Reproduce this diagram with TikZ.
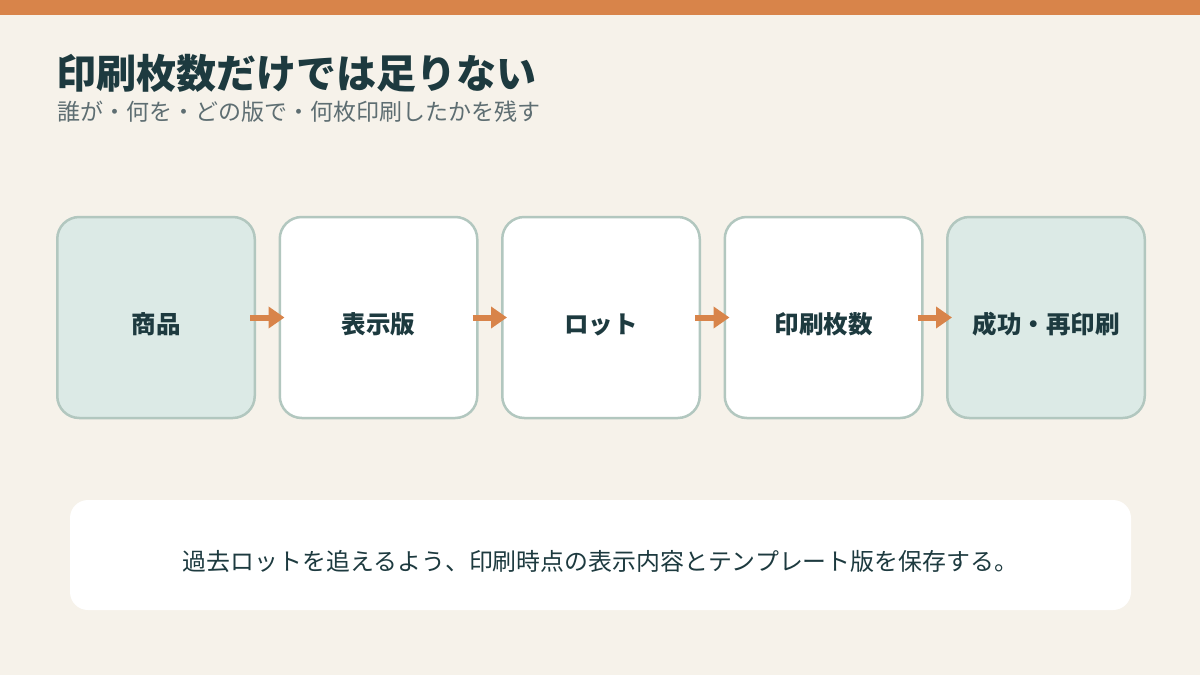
\documentclass[tikz,border=0pt]{standalone}
\usepackage{fontspec}
\setmainfont{Noto Sans CJK JP}
\usetikzlibrary{arrows.meta,positioning,calc}
\definecolor{cBg}{HTML}{F6F2EA}
\definecolor{cBar}{HTML}{D8844A}
\definecolor{cInk}{HTML}{1D3A3F}
\definecolor{cSub}{HTML}{5E6E72}
\definecolor{cEdge}{HTML}{B2C7BF}
\definecolor{cMint}{HTML}{DCEAE6}
\tikzset{
  stage/.style={rounded corners=22pt,draw=cEdge,line width=2.5pt,fill=white,
    minimum width=197.5pt,minimum height=201pt,inner sep=0pt,
    text height=32pt,text depth=0pt,
    font=\fontsize{24.5}{28}\selectfont\bfseries,text=cInk},
  endstage/.style={stage,fill=cMint},
  flowarrow/.style={-{Triangle[length=16pt,width=21pt]},line width=6pt,cBar},
  note/.style={rounded corners=18pt,fill=white,minimum width=1061pt,minimum height=110pt,
    inner sep=0pt,text height=31pt,text depth=0pt,
    font=\fontsize{23.9}{27}\selectfont,text=cInk},
}

\begin{document}
\begin{tikzpicture}[x=1pt,y=-1pt,node distance=22.5pt]
  \useasboundingbox (0,0) rectangle (1200,675);
  \fill[cBg] (0,0) rectangle (1200,675);
  \fill[cBar] (0,0) rectangle (1200,15);
  % heading
  \node[anchor=west,inner sep=0pt,font=\fontsize{40}{46}\selectfont\bfseries,text=cInk]
    (title) at (56,73) {印刷枚数だけでは足りない};
  \node[anchor=west,inner sep=0pt,font=\fontsize{23}{27}\selectfont,text=cSub]
    (sub) at (57,112) {誰が・何を・どの版で・何枚印刷したかを残す};
  % stages
  \node[endstage] (item) at (156,317.5) {商品};
  \node[stage,right=of item] (label) {表示版};
  \node[stage,right=of label] (lot) {ロット};
  \node[stage,right=of lot] (count) {印刷枚数};
  \node[endstage,right=of count] (done) {成功・再印刷};
  \foreach \a/\b in {item/label,label/lot,lot/count,count/done}
    \draw[flowarrow] ($(\a.east)+(-6pt,0)$) -- ($(\b.west)+(6pt,0)$);
  % footer
  \node[note] (memo) at (600.5,555) {過去ロットを追えるよう、印刷時点の表示内容とテンプレート版を保存する。};
\end{tikzpicture}
\end{document}
